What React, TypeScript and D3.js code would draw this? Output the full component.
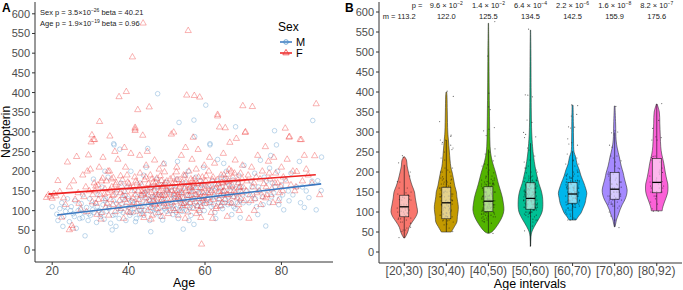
import React from 'react';
import * as d3 from 'd3';

// Panel A: Neopterin vs Age (female = triangles, male = circles)
const femalePts: [number, number][] = [
  [18.5, 133], [19, 140], [19.5, 136], [20, 131], [20.5, 143], [21, 137], [21.5, 176], [22, 148], [22.5, 83], [23, 132],
  [23.5, 115], [24, 223], [24.5, 160], [24.5, 51], [25.2, 62], [25.4, 55], [25.6, 175], [26, 128], [26.4, 237], [26.8, 145],
  [27, 118], [27.5, 102], [28, 190], [28.3, 135], [28.8, 160], [29, 97], [29.5, 241], [29.7, 150], [30, 205], [30.2, 274],
  [30.4, 292], [30.8, 280], [31.1, 280], [30.5, 122], [31, 170], [29.2, 200],
  [31.2, 150], [31.5, 118], [32, 165], [32.3, 210], [32.4, 326], [32.6, 140], [33, 95], [33.2, 182], [33.5, 130], [33.8, 155],
  [34, 108], [34.2, 175], [34.5, 145], [34.8, 88], [35, 200], [35.1, 289], [35.3, 128], [35.6, 160], [35.9, 115], [36, 183],
  [36.2, 140], [36.5, 97], [36.8, 170], [37, 152], [37.2, 230], [37.5, 389], [37.6, 125], [37.9, 188], [38, 105], [38.2, 162],
  [38.5, 138], [38.7, 80], [39, 148], [39.2, 210], [39.4, 402], [39.5, 120], [39.8, 172], [40, 135], [40.2, 95], [40.4, 158],
  [40.6, 245], [40.8, 112], [31.7, 90], [33.3, 235], [34.6, 200], [36.4, 250], [38.9, 260], [32.8, 78], [35.5, 180], [39.6, 190],
  [41, 490], [41.2, 160], [41.4, 120], [41.6, 185], [41.7, 311], [41.7, 307], [41.7, 303], [41.8, 140], [42, 98], [42.2, 170],
  [42.4, 356], [42.5, 150], [42.7, 128], [43, 195], [43.2, 110], [43.4, 165], [43.7, 291], [43.8, 576], [43.9, 142], [44, 82],
  [44.2, 178], [44.4, 132], [44.6, 215], [44.8, 155], [45, 100], [45.2, 168], [45.4, 363], [45.5, 125], [45.7, 190], [46, 145],
  [46.2, 88], [46.4, 172], [46.6, 135], [46.8, 228], [47, 115], [47.2, 160], [47.4, 182], [47.6, 140], [47.8, 95], [48, 205],
  [48.2, 150], [48.4, 122], [48.6, 176], [48.8, 85], [49, 162], [49.2, 138], [49.4, 198], [49.6, 110], [49.8, 155], [50, 175],
  [50.2, 130], [42.9, 240], [44.9, 250], [46.9, 118], [47.9, 168], [49.1, 218], [45.9, 78], [43.5, 148], [48.5, 138], [50.4, 92],
  [51, 160], [51.2, 294], [51.4, 120], [51.6, 185], [51.8, 299], [51.9, 142], [52, 100], [52.2, 170], [52.4, 135], [52.6, 210],
  [52.8, 150], [53, 88], [53.2, 178], [53.4, 128], [53.6, 165], [53.8, 240], [54, 145], [54.2, 112], [54.4, 190], [54.6, 155],
  [54.8, 80], [55, 172], [55.2, 393], [55.4, 138], [55.6, 557], [55.8, 200], [56, 120], [56.2, 162], [56.4, 148], [56.6, 230],
  [56.9, 286], [57, 105], [57.2, 392], [57.3, 180], [57.5, 140], [57.8, 92], [58, 168], [58.2, 255], [58.4, 130], [58.6, 388],
  [58.8, 158], [59, 110], [59.1, 14.5], [59.3, 185], [59.5, 145], [59.8, 215], [60, 125], [60.2, 175], [52.5, 198], [53.9, 118],
  [55.5, 96], [56.7, 176], [58.9, 82], [54.9, 260], [57.7, 205], [59.6, 135], [51.3, 150], [53.1, 132], [56.1, 158], [58.1, 112],
  [60.5, 160], [60.8, 132], [61, 200], [61.3, 145], [61.6, 95], [61.9, 178], [62.2, 128], [62.5, 220], [62.8, 155], [63, 110],
  [63.3, 344], [63.3, 340], [63.5, 168], [63.8, 312], [64, 138], [64.2, 190], [64.5, 120], [64.8, 245], [65, 150], [65.3, 310],
  [65.5, 175], [65.8, 85], [66, 140], [66.3, 205], [66.5, 273], [66.7, 162], [67, 118], [67.3, 185], [67.6, 150], [67.9, 228],
  [68.2, 283], [68.4, 132], [68.7, 170], [69, 100], [69.3, 195], [69.6, 145], [69.9, 366], [70, 160], [70.3, 125], [70.6, 300],
  [62, 80], [64.7, 170], [66.9, 200], [68.9, 158], [61.2, 235], [63.7, 148], [65.9, 192], [69.8, 215],
  [70.5, 298], [71, 175], [71.5, 80], [71.8, 140], [72.2, 210], [72.6, 160], [73, 130], [73.4, 185], [73.8, 240], [74.2, 150],
  [74.6, 115], [75, 200], [75.4, 168], [75.8, 262], [76.2, 140], [76.6, 225], [77, 180], [77.5, 155], [78, 235], [78.5, 195],
  [79, 170], [79.5, 145], [80, 210], [80.5, 185], [72.9, 100], [75.9, 132], [77.8, 120], [79.8, 162], [72.4, 364],
  [81, 309], [82, 286], [82.1, 288], [82.5, 165], [83, 200], [83.5, 150], [84, 199], [84.9, 280], [85.2, 280], [85.5, 175],
  [86, 240], [87, 190], [88, 170], [88.7, 239], [89.1, 371], [90, 140], [81.5, 230],
  [30.6, 140], [31.4, 162], [32.1, 128], [32.9, 175], [33.7, 142], [34.4, 118], [35.2, 152], [35.8, 138], [36.6, 165], [37.3, 110],
  [37.8, 145], [38.4, 178], [39.1, 128], [39.7, 98], [40.1, 168], [40.9, 150],
  [41.1, 132], [41.9, 175], [42.3, 118], [42.8, 160], [43.3, 138], [43.6, 92], [44.1, 150], [44.5, 185], [44.7, 120], [45.1, 140],
  [45.6, 158], [45.8, 108], [46.1, 180], [46.5, 125], [46.7, 150], [47.1, 172], [47.3, 132], [47.7, 105], [48.1, 145], [48.3, 188],
  [48.7, 128], [48.9, 160], [49.3, 118], [49.5, 170], [49.7, 140], [50.1, 152], [50.3, 112],
  [50.6, 145], [50.9, 180], [51.1, 128], [51.5, 168], [51.7, 105], [52.1, 150], [52.3, 122], [52.7, 178], [52.9, 140], [53.3, 160],
  [53.5, 100], [53.7, 145], [54.1, 172], [54.3, 130], [54.5, 118], [54.7, 188], [55.1, 150], [55.3, 112], [55.7, 165], [55.9, 138],
  [56.3, 180], [56.5, 128], [56.8, 150], [57.1, 168], [57.4, 122], [57.6, 158], [57.9, 140], [58.3, 185], [58.5, 100], [58.7, 145],
  [59.2, 130], [59.4, 170], [59.7, 155], [59.9, 118],
  [60.3, 188], [60.7, 145], [61.1, 162], [61.4, 120], [61.7, 150], [62.1, 185], [62.4, 140], [62.7, 165], [62.9, 105], [63.2, 178],
  [63.6, 130], [63.9, 158], [64.1, 112], [64.4, 172], [64.6, 148], [64.9, 190], [65.2, 128], [65.4, 160], [65.7, 140], [66.1, 175],
  [66.4, 120], [66.8, 150], [67.1, 165], [67.4, 135], [67.7, 195], [68.1, 145], [68.6, 178], [68.8, 115], [69.1, 160], [69.4, 130],
  [69.7, 180], [70.8, 150], [71.3, 190], [72, 125], [72.8, 170], [73.6, 145], [74.4, 180], [75.2, 135], [76, 160], [76.8, 195],
  [77.3, 140], [78.3, 170], [79.2, 125], [80.3, 150], [81.2, 175], [83.8, 160], [86.5, 205],
];

const malePts: [number, number][] = [
  [20, 110], [21.2, 91], [21.5, 75], [22, 105], [22.5, 120], [23, 85], [23.5, 98], [24, 130], [24.5, 72], [25, 110],
  [25.5, 92], [26, 125], [26.3, 55], [26.8, 100], [27.2, 80], [27.6, 118], [28, 140], [28.3, 95], [28.6, 36], [29, 108],
  [29.4, 75], [29.8, 130], [30, 88], [30.4, 115], [30.8, 180], [24.8, 100], [27.9, 82], [22.8, 60],
  [31, 95], [31.3, 120], [31.6, 70], [32, 140], [32.3, 100], [32.6, 85], [33, 160], [33.3, 115], [33.6, 78], [34, 130],
  [34.3, 98], [34.6, 185], [35, 110], [35.3, 68], [35.7, 51], [36, 125], [36.1, 270], [36.2, 267], [36.5, 90], [36.8, 145],
  [37.2, 105], [37.5, 80], [37.7, 256], [38, 170], [38.3, 118], [38.6, 95], [39, 138], [39.3, 75], [39.6, 160], [40, 108],
  [40.3, 88], [40.6, 200], [33.8, 200], [36.7, 60], [38.8, 150], [39.9, 130],
  [41, 120], [41.3, 95], [41.6, 150], [42, 80], [42.3, 135], [42.6, 110], [43, 170], [43.3, 100], [43.6, 125], [44, 88],
  [44.3, 145], [44.6, 210], [45, 258], [45.2, 115], [45.5, 75], [45.8, 46.5], [46, 160], [46.3, 105], [46.6, 130], [47, 92],
  [47.3, 180], [47.6, 397], [47.8, 120], [48, 140], [48.3, 85], [48.6, 165], [49, 110], [49.3, 220], [49.6, 128], [50, 98],
  [50.3, 150], [41.8, 72], [43.9, 190], [45.9, 118], [47.1, 140], [48.9, 76], [49.8, 172], [42.8, 102], [44.8, 132], [46.8, 155],
  [51, 115], [51.3, 160], [51.6, 90], [52, 138], [52.3, 105], [52.6, 180], [53, 80], [53.2, 324], [53.4, 125], [53.8, 150],
  [54, 98], [54.3, 53], [54.6, 170], [55, 120], [55.3, 140], [55.6, 200], [56, 108], [56.3, 88], [56.6, 155], [57, 130],
  [57.1, 65], [57.1, 330], [57.3, 288], [57.6, 185], [58, 112], [58.3, 145], [58.6, 95], [59, 165], [59.3, 125], [59.6, 210],
  [60, 140], [60.2, 368], [52.8, 225], [55.8, 75], [58.8, 175], [53.6, 110], [56.9, 160], [59.8, 100], [51.9, 132], [54.9, 190],
  [60.6, 130], [61, 155], [61.3, 270], [61.3, 267], [61.6, 110], [62, 175], [62.3, 135], [62.6, 95], [63, 160], [63.3, 230],
  [63.6, 120], [64, 145], [64.3, 185], [64.6, 105], [65, 150], [65.3, 128], [65.6, 200], [66, 115], [66.3, 165], [66.6, 140],
  [67, 90], [67.3, 178], [67.6, 135], [68, 313], [68.2, 155], [68.5, 120], [68.8, 190], [69.2, 82], [69.5, 160], [69.8, 140],
  [70.2, 215], [62.8, 80], [65.8, 172], [67.9, 105], [64.9, 220],
  [71, 150], [71.5, 120], [72, 175], [72.5, 140], [73, 195], [73.5, 110], [74, 160], [74.5, 228], [75, 135], [75.5, 185],
  [75.9, 61], [76.3, 150], [76.8, 120], [77.2, 240], [77.6, 170], [78, 145], [78.2, 303], [78.7, 267], [79, 200], [79.5, 130],
  [80, 165], [80.6, 102], [73.8, 90], [76.9, 208],
  [81, 180], [81.8, 150], [82.5, 195], [83, 140], [84, 160], [85, 120], [86, 108], [86.5, 150], [87.2, 133], [88, 175],
  [88.2, 329], [89.1, 102], [89.5, 176], [90.4, 151], [90.5, 236], [84.7, 225],
  [23.2, 110], [25.8, 85], [27.4, 105], [29.6, 92], [30.6, 102], [31.8, 110], [32.8, 92], [33.9, 125], [34.8, 105], [35.9, 88],
  [36.9, 118], [37.9, 100], [38.5, 132], [39.4, 112], [40.5, 95], [40.9, 125],
  [41.5, 105], [42.1, 118], [42.9, 90], [43.4, 140], [43.8, 112], [44.2, 100], [44.9, 150], [45.3, 128], [45.7, 98], [46.2, 135],
  [46.5, 112], [47.2, 102], [47.5, 160], [48.1, 118], [48.5, 98], [48.8, 140], [49.2, 125], [49.5, 105], [49.9, 150], [50.5, 118],
  [50.8, 100], [51.2, 140], [51.8, 112], [52.2, 155], [52.5, 95], [52.9, 128], [53.3, 145], [53.9, 105], [54.2, 135], [54.5, 118],
  [54.8, 160], [55.2, 100], [55.5, 128], [55.9, 150], [56.2, 120], [56.5, 135], [56.8, 108], [57.4, 142], [57.8, 120], [58.2, 158],
  [58.5, 130], [58.9, 110], [59.2, 148], [59.5, 122], [59.9, 165],
  [60.4, 118], [60.9, 142], [61.5, 125], [61.8, 160], [62.2, 115], [62.5, 150], [62.9, 135], [63.4, 175], [63.8, 128], [64.2, 112],
  [64.5, 160], [64.8, 140], [65.2, 120], [65.5, 182], [66.2, 135], [66.5, 150], [66.9, 120], [67.2, 160], [67.5, 110], [68.3, 140],
  [68.7, 170], [69.1, 125], [69.4, 150], [70, 120], [71.2, 140], [72.3, 160], [73.2, 130], [74.2, 150], [75.2, 115], [76.1, 175],
  [77.4, 135], [78.4, 160], [79.3, 115], [80.3, 140], [82, 125], [85.5, 160],
];

// fitted lines (age, neopterin) at both ends
const fitF: [number, number][] = [[19, 142], [89, 191]];
const fitM: [number, number][] = [[21.3, 89], [90.4, 168]];

const xTicksA = [20, 40, 60, 80];
const yTicks = [0, 50, 100, 150, 200, 250, 300, 350, 400, 450, 500, 550, 600];

// Panel B: age intervals
const ageBins = ['[20,30)', '[30,40)', '[40,50)', '[50,60)', '[60,70)', '[70,80)', '[80,92)'];
const binEdges = [20, 30, 40, 50, 60, 70, 80, 92];
const binColors = ['#F8766D', '#C49A00', '#53B400', '#00C094', '#00B6EB', '#A58AFF', '#FB61D7'];
const pMant = ['', '9.6', '1.4', '6.4', '2.2', '1.6', '8.2'];
const pExp = ['', '−2', '−2', '−4', '−6', '−8', '−7'];
const medLabels = ['m = 113.2', '122.0', '125.5', '134.5', '142.5', '155.9', '175.6'];

const boxQ1 = [88, 83, 101, 107, 122, 132, 148];
const boxMed = [113, 123, 127, 134, 145, 157, 174];
const boxQ3 = [142, 162, 163, 173, 174, 199, 234];
const whiskLo = [35, 50, 47, 15, 80, 63, 103];
const whiskHi = [218, 280, 256, 272, 252, 299, 370];

// violin outlines: [neopterin, relative half width]
const violins: [number, number][][] = [
  [[35, 0.03], [42, 0.13], [50, 0.22], [62, 0.31], [75, 0.5], [88, 0.72], [100, 0.83], [115, 0.78], [135, 0.69], [150, 0.64], [165, 0.5], [180, 0.38], [200, 0.26], [215, 0.18], [230, 0.14], [238, 0.02]],
  [[50, 0.31], [63, 0.5], [75, 0.66], [88, 0.69], [100, 0.73], [113, 0.75], [138, 0.66], [150, 0.63], [165, 0.53], [180, 0.46], [200, 0.36], [213, 0.28], [250, 0.19], [280, 0.13], [300, 0.09], [350, 0.06], [390, 0.04], [400, 0.02]],
  [[47, 0.06], [50, 0.21], [60, 0.44], [75, 0.69], [90, 0.88], [105, 0.97], [120, 0.94], [135, 0.88], [150, 0.78], [170, 0.63], [200, 0.44], [225, 0.25], [250, 0.13], [280, 0.09], [320, 0.075], [400, 0.05], [500, 0.03], [572, 0.01]],
  [[15, 0.01], [30, 0.02], [45, 0.05], [55, 0.13], [72, 0.36], [88, 0.59], [100, 0.72], [113, 0.77], [138, 0.75], [155, 0.66], [172, 0.52], [190, 0.41], [213, 0.29], [240, 0.19], [263, 0.13], [300, 0.075], [350, 0.05], [400, 0.04], [500, 0.025], [555, 0.01]],
  [[80, 0.22], [90, 0.38], [97, 0.52], [110, 0.66], [122, 0.78], [135, 0.84], [147, 0.89], [160, 0.81], [172, 0.71], [190, 0.53], [205, 0.42], [220, 0.28], [238, 0.19], [250, 0.09], [280, 0.06], [320, 0.05], [367, 0.03]],
  [[63, 0.02], [70, 0.06], [80, 0.11], [92, 0.22], [105, 0.33], [118, 0.47], [130, 0.63], [142, 0.74], [155, 0.78], [170, 0.7], [185, 0.6], [197, 0.54], [215, 0.41], [238, 0.29], [260, 0.16], [280, 0.09], [320, 0.06], [365, 0.02]],
  [[103, 0.34], [109, 0.36], [120, 0.44], [130, 0.53], [145, 0.66], [155, 0.7], [170, 0.69], [180, 0.63], [200, 0.53], [222, 0.44], [245, 0.31], [263, 0.25], [290, 0.22], [322, 0.19], [350, 0.16], [370, 0.02]],
];

const FONT = '"Liberation Sans", Arial, sans-serif';
const AXIS = '#333333';
const TICKTXT = '#4d4d4d';

const App = () => {
  const W = 683;
  const H = 290;

  // Panel A scales
  const xA = d3.scaleLinear().domain([15.5, 93.5]).range([35, 333]);
  const yA = d3.scaleLinear().domain([-30.5, 630]).range([262, 2]);

  // Panel B scales
  const xB = d3.scalePoint<string>().domain(ageBins).range([379, 682]).padding(0.6);
  const yB = d3.scaleLinear().domain([-27.5, 625]).range([263, 2]);
  const wB = d3.scaleLinear().domain([0, 1]).range([0, 16]);

  const tri = d3.symbol().type(d3.symbolTriangle).size(17)();
  const fitLine = d3.line<[number, number]>().x((d) => xA(d[0])).y((d) => yA(d[1]));

  // same observations, grouped into age intervals for the jittered points
  const allPts = [...malePts, ...femalePts]
    .map((d, i) => ({ age: d[0], v: d[1], i, bin: Math.min(d3.bisectRight(binEdges, d[0]) - 1, 6) }))
    .filter((d) => d.bin >= 0 && d.age >= 20);

  const violinArea = (k: number) => {
    const cx = xB(ageBins[k]) as number;
    return d3
      .area<[number, number]>()
      .y((d) => yB(d[0]))
      .x0((d) => cx - wB(d[1]))
      .x1((d) => cx + wB(d[1]))
      .curve(d3.curveCatmullRom.alpha(0.5))(violins[k]);
  };

  return (
    <svg width={W} height={H} style={{ position: 'absolute', left: 0, top: 0, background: '#fff' }} fontFamily={FONT}>
      <rect width={W} height={H} fill="#fff" />

      {/* ---------- Panel A ---------- */}
      <text x={2} y={12} fontSize={12} fontWeight="bold" fill="#000">A</text>

      {malePts.map((d, i) => (
        <circle key={'mp' + i} cx={xA(d[0])} cy={yA(d[1])} r={2.3} fill="none" stroke="#4a90c8" strokeOpacity={0.5} strokeWidth={0.7} />
      ))}
      {femalePts.map((d, i) => (
        <path key={'fp' + i} d={tri as string} transform={`translate(${xA(d[0])},${yA(d[1])})`} fill="none" stroke="#ee3b3b" strokeOpacity={0.55} strokeWidth={0.7} />
      ))}
      <path d={fitLine(fitM) as string} stroke="#3a78c0" strokeWidth={1.6} fill="none" />
      <path d={fitLine(fitF) as string} stroke="#ee2020" strokeWidth={1.6} fill="none" />

      {/* axes A */}
      <line x1={35} x2={35} y1={2} y2={262} stroke={AXIS} strokeWidth={1} />
      <line x1={35} x2={333} y1={262} y2={262} stroke={AXIS} strokeWidth={1} />
      {yTicks.map((t) => (
        <g key={'ya' + t}>
          <line x1={32} x2={35} y1={yA(t)} y2={yA(t)} stroke={AXIS} />
          <text x={30} y={yA(t) + 4} fontSize={11} textAnchor="end" fill={TICKTXT}>{t}</text>
        </g>
      ))}
      {xTicksA.map((t) => (
        <g key={'xa' + t}>
          <line x1={xA(t)} x2={xA(t)} y1={262} y2={265} stroke={AXIS} />
          <text x={xA(t)} y={275} fontSize={12} textAnchor="middle" fill={TICKTXT}>{t}</text>
        </g>
      ))}
      <text x={xA(54.5)} y={287} fontSize={12.5} textAnchor="middle" fill="#000">Age</text>
      <text transform={`translate(9.5,${yA(300)}) rotate(-90)`} fontSize={12} textAnchor="middle" fill="#000">Neopterin</text>

      {/* annotation */}
      <text x={40} y={15} fontSize={7.5} fill="#222">
        Sex p = 3.5×10<tspan dy={-3} fontSize={5}>−26</tspan><tspan dy={3}> beta = 40.21</tspan>
      </text>
      <text x={40} y={25.5} fontSize={7.5} fill="#222">
        Age p = 1.9×10<tspan dy={-3} fontSize={5}>−19</tspan><tspan dy={3}> beta = 0.96</tspan>
      </text>

      {/* legend */}
      <text x={278} y={31} fontSize={12} fill="#000">Sex</text>
      <line x1={280} x2={292} y1={42} y2={42} stroke="#3a78c0" strokeWidth={1.5} />
      <circle cx={286} cy={42} r={2.3} fill="none" stroke="#4a90c8" strokeWidth={0.8} />
      <text x={296} y={46} fontSize={11} fill="#000">M</text>
      <line x1={280} x2={292} y1={53} y2={53} stroke="#ee2020" strokeWidth={1.5} />
      <path d={tri as string} transform="translate(286,53)" fill="none" stroke="#ee3b3b" strokeWidth={0.8} />
      <text x={296} y={57} fontSize={11} fill="#000">F</text>

      {/* ---------- Panel B ---------- */}
      <text x={345} y={12} fontSize={12} fontWeight="bold" fill="#000">B</text>

      {ageBins.map((b, k) => (
        <path key={'v' + b} d={violinArea(k) as string} fill={binColors[k]} stroke="#333" strokeWidth={0.6} />
      ))}
      {allPts.map((d) => {
        const cx = xB(ageBins[d.bin]) as number;
        const jit = (((d.i * 0.6180339) % 1) - 0.5) * 14;
        return <circle key={'j' + d.i} cx={cx + jit} cy={yB(d.v)} r={0.6} fill="#111" fillOpacity={0.6} />;
      })}
      {ageBins.map((b, k) => {
        const cx = xB(b) as number;
        return (
          <g key={'b' + b}>
            <line x1={cx} x2={cx} y1={yB(whiskHi[k])} y2={yB(boxQ3[k])} stroke="#111" strokeWidth={0.6} />
            <line x1={cx} x2={cx} y1={yB(boxQ1[k])} y2={yB(whiskLo[k])} stroke="#111" strokeWidth={0.6} />
            <rect x={cx - 4.5} width={9} y={yB(boxQ3[k])} height={yB(boxQ1[k]) - yB(boxQ3[k])} fill="#fff" fillOpacity={0.55} stroke="#111" strokeWidth={0.6} />
            <line x1={cx - 4.5} x2={cx + 4.5} y1={yB(boxMed[k])} y2={yB(boxMed[k])} stroke="#000" strokeWidth={1.3} />
          </g>
        );
      })}

      {/* axes B */}
      <line x1={379} x2={379} y1={2} y2={263} stroke={AXIS} strokeWidth={1} />
      <line x1={379} x2={682} y1={263} y2={263} stroke={AXIS} strokeWidth={1} />
      {yTicks.map((t) => (
        <g key={'yb' + t}>
          <line x1={376} x2={379} y1={yB(t)} y2={yB(t)} stroke={AXIS} />
          <text x={374} y={yB(t) + 4} fontSize={11} textAnchor="end" fill={TICKTXT}>{t}</text>
        </g>
      ))}
      {ageBins.map((b) => (
        <g key={'xb' + b}>
          <line x1={xB(b)} x2={xB(b)} y1={263} y2={266} stroke={AXIS} />
          <text x={xB(b)} y={275} fontSize={12} textAnchor="middle" fill={TICKTXT}>{b}</text>
        </g>
      ))}
      <text x={530} y={287.5} fontSize={12.5} textAnchor="middle" fill="#000">Age intervals</text>

      {/* p values and medians */}
      <text x={(xB(ageBins[1]) as number) - 24} y={8} fontSize={7.5} textAnchor="end" fill="#222">p =</text>
      {ageBins.map((b, k) =>
        k === 0 ? null : (
          <text key={'pv' + b} x={xB(b)} y={8} fontSize={7.5} textAnchor="middle" fill="#222">
            {pMant[k]} × 10<tspan dy={-3} fontSize={5}>{pExp[k]}</tspan>
          </text>
        )
      )}
      {ageBins.map((b, k) => (
        <text key={'md' + b} x={(xB(b) as number) - (k === 0 ? 5 : 0)} y={19} fontSize={7.5} textAnchor="middle" fill="#222">{medLabels[k]}</text>
      ))}
    </svg>
  );
};

export default App;
